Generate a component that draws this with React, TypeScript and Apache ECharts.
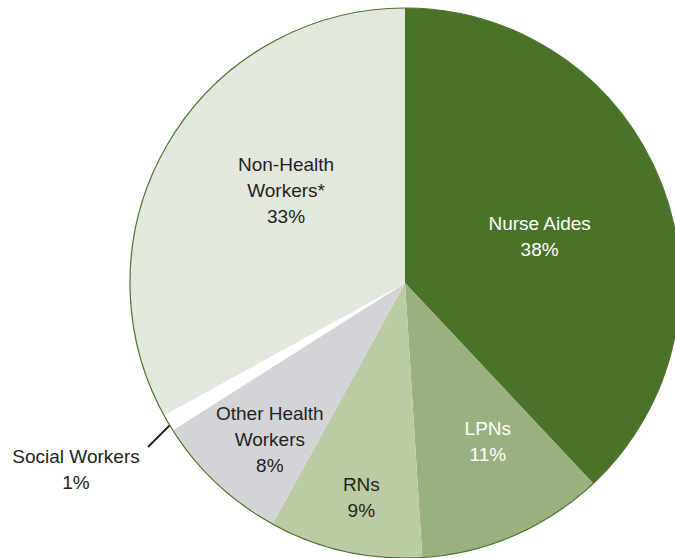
import React, { useEffect, useRef } from "react";
import * as echarts from "echarts";

const categories = [
  "Nurse Aides",
  "LPNs",
  "RNs",
  "Other Health\nWorkers",
  "Social Workers",
  "Non-Health\nWorkers*",
];
const values = [38, 11, 9, 8, 1, 33];
const colors = ["#4a7329", "#9ab07f", "#bdcba5", "#d3d4d7", "#ffffff", "#e3e8de"];
const labelColors = ["#ffffff", "#ffffff", "#231f20", "#231f20", "#231f20", "#231f20"];
const labelOffsets: [number, number][] = [
  [4, 5],
  [27, 30],
  [-13, 77],
  [-39, 54],
  [0, 0],
  [2, -21],
];

const FONT = "'Liberation Sans Narrow', 'Arial Narrow', 'Liberation Sans', sans-serif";

export default function App() {
  const ref = useRef<HTMLDivElement>(null);
  useEffect(() => {
    document.body.style.margin = "0";
    const chart = echarts.init(ref.current!, undefined, { renderer: "svg" });
    const data = categories.map((name, i) => {
      const isSocial = name === "Social Workers";
      return {
        name,
        value: values[i],
        itemStyle: { color: colors[i] },
        label: isSocial
          ? {
              position: "outside",
              color: labelColors[i],
            }
          : {
              position: "inside",
              offset: labelOffsets[i],
              color: labelColors[i],
            },
        labelLine: isSocial
          ? { show: true, lineStyle: { color: "#231f20", width: 2 } }
          : { show: false },
      };
    });
    chart.setOption({
      animation: false,
      backgroundColor: "#ffffff",
      series: [
        {
          type: "pie",
          center: [405, 283],
          radius: [0, 275],
          startAngle: 90,
          clockwise: true,
          avoidLabelOverlap: false,
          silent: true,
          itemStyle: { borderWidth: 0 },
          label: {
            show: true,
            fontFamily: FONT,
            fontSize: 19,
            lineHeight: 26,
            align: "center",
            formatter: (p: any) => `${p.name}\n${p.value}%`,
          },
          labelLayout: (params: any) => {
            if (params.dataIndex === 4) {
              return {
                x: 76,
                y: 469,
                align: "center",
                verticalAlign: "middle",
                labelLinePoints: [
                  [172, 423],
                  [148, 447],
                  [148, 447],
                ],
              };
            }
            return {};
          },
          data,
        },
        {
          type: "pie",
          center: [405, 283],
          radius: [0, 275],
          silent: true,
          label: { show: false },
          labelLine: { show: false },
          itemStyle: {
            color: "rgba(0,0,0,0)",
            borderColor: "#4a7329",
            borderWidth: 1.2,
          },
          data: [{ name: "outline", value: 100 }],
        },
      ],
    });
    return () => chart.dispose();
  }, []);
  return (
    <div
      ref={ref}
      style={{ position: "absolute", left: 0, top: 0, width: 675, height: 558 }}
    />
  );
}
